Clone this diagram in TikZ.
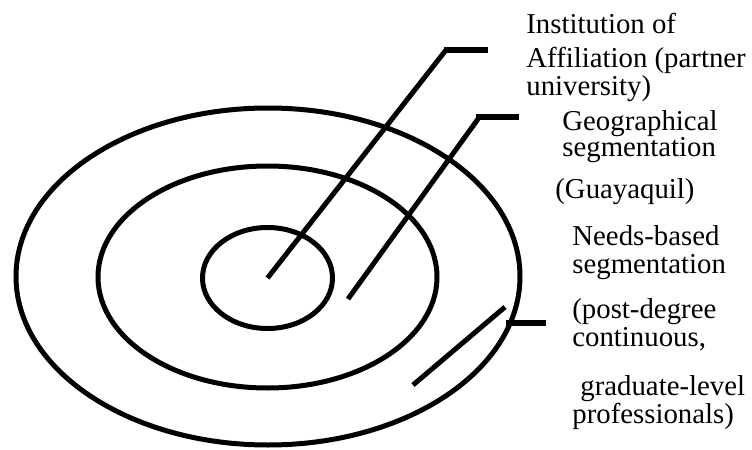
\documentclass[tikz,border=0pt]{standalone}
\usepackage{fontspec}
\setmainfont{Liberation Serif}
\usetikzlibrary{shapes.geometric}

\begin{document}
\begin{tikzpicture}[
    x=0.5pt, y=-0.5pt,
    every node/.style={font=\fontsize{14.4}{14.2}\selectfont},
    ring/.style={ellipse, draw, line width=2.5pt, inner sep=0pt},
    leader/.style={line width=2.5pt},
    stub/.style={line width=3pt},
    label/.style={anchor=north west, inner sep=0pt, align=left}
]
\useasboundingbox (0,0) rectangle (752,450);

% Rings
\node[ring, minimum width=252pt, minimum height=168.5pt] (ringneeds) at (268,276.5) {};
\node[ring, minimum width=169.5pt, minimum height=111pt] (ringgeo) at (267.5,277) {};
\node[ring, minimum width=65pt, minimum height=50.5pt] (ringinst) at (267.5,278) {};

% Leader points
\coordinate (instbend) at (446,50);
\coordinate (instend) at (488,50);
\coordinate (geostart) at (348,299);
\coordinate (geobend) at (478,119);
\coordinate (geoend) at (519,117);
\coordinate (needsstart) at (413,385);
\coordinate (needstop) at (505,307);
\coordinate (needsstubA) at (506,323);
\coordinate (needsstubB) at (546,323);

% Leaders
\draw[leader] (ringinst.center) -- (instbend);
\draw[stub] ([xshift=-1pt]instbend) -- (instend);
\draw[leader] (geostart) -- (geobend);
\draw[stub] ([xshift=-1pt]geobend |- geoend) -- (geoend);
\draw[leader] (needsstart) -- (needstop);
\draw[stub] (needsstubA) -- (needsstubB);

% Labels
\node[label] (labelinst) at (526,13) {Institution of\\[2.5pt]Affiliation (partner\\university)};
\node[label] (labelgeo) at (562,110) {Geographical\\[-1pt]segmentation};
\node[label] (labelguay) at (555,178) {(Guayaquil)};
\node[label] (labelneeds) at (572,225) {Needs-based\\segmentation};
\node[label] (labelpost) at (572,298) {(post-degree\\continuous,};
\node[label] (labelgrad) at (572,375) {\hspace*{4pt}graduate-level\\professionals)};

\end{tikzpicture}
\end{document}
